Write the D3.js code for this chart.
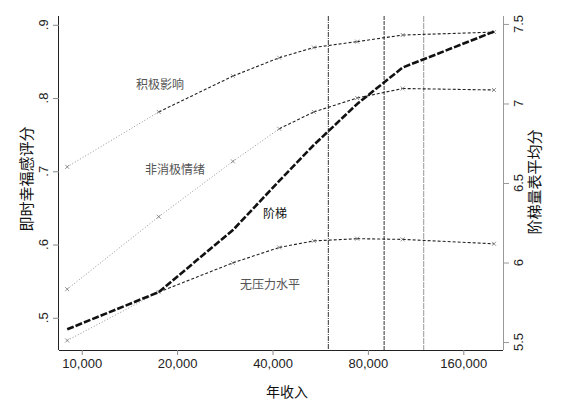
<!DOCTYPE html>
<html><head><meta charset="utf-8">
<script src="https://cdn.jsdelivr.net/npm/d3@7"></script>
<style>
body{margin:0;background:#fff;}
text{font-family:"Liberation Sans",Arial,sans-serif;}
.cjk{font-family:"Noto Sans CJK SC",sans-serif;}
</style></head>
<body><svg id="c" width="562" height="403"></svg>
<script>
// data
const incomes = [9000, 17500, 30000, 42000, 54000, 74000, 103000, 200000];
const positiveAffect = [0.706, 0.781, 0.830, 0.855, 0.869, 0.877, 0.886, 0.890];
const notSad = [0.539, 0.638, 0.7135, 0.758, 0.781, 0.800, 0.813, 0.811];
const noStress = [0.469, 0.535, 0.575, 0.596, 0.605, 0.608, 0.607, 0.601];
const ladder = [5.58, 5.814, 6.204, 6.513, 6.739, 6.997, 7.226, 7.452];
const xTicks = [10000, 20000, 40000, 80000, 160000];
const leftTicks = [0.5, 0.6, 0.7, 0.8, 0.9];
const leftTickLabels = [".5", ".6", ".7", ".8", ".9"];
const rightTicks = [5.5, 6, 6.5, 7, 7.5];
const rightTickLabels = ["5.5", "6", "6.5", "7", "7.5"];
const refLines = [60000, 90000, 120000];
const seriesNames = ["积极影响", "非消极情绪", "无压力水平", "阶梯"];

const svg = d3.select("#c");
const L = 59, R = 503, T = 16, B = 350;
const x = d3.scaleLog().domain([8478, 213500]).range([L, R]);
const yL = d3.scaleLinear().domain([0.456, 0.912]).range([B, T]);
const yR = d3.scaleLinear().domain([5.45, 7.55]).range([B, T]);

// reference vertical lines
const refStyles = [{c:"#333", d:"5,1,1,1"}, {c:"#333", d:"4,1"}, {c:"#999", d:"6,1"}];
refLines.forEach((v, i) => {
  svg.append("line").attr("x1", x(v)).attr("x2", x(v)).attr("y1", T).attr("y2", B)
    .attr("stroke", refStyles[i].c).attr("stroke-width", 1).attr("stroke-dasharray", refStyles[i].d);
});

// affect lines (left axis)
function drawSeries(vals, scale, dashFrom) {
  for (let i = 0; i < vals.length - 1; i++) {
    const dashed = i >= dashFrom;
    svg.append("line")
      .attr("x1", x(incomes[i])).attr("y1", scale(vals[i]))
      .attr("x2", x(incomes[i+1])).attr("y2", scale(vals[i+1]))
      .attr("stroke", dashed ? "#222" : "#888")
      .attr("stroke-width", dashed ? 1.1 : 0.9)
      .attr("stroke-dasharray", dashed ? "3,2" : "1,2");
  }
  vals.forEach((v, i) => {
    const cx = x(incomes[i]), cy = scale(v), s = 2;
    svg.append("path").attr("d", `M${cx-s},${cy-s}L${cx+s},${cy+s}M${cx-s},${cy+s}L${cx+s},${cy-s}`)
      .attr("stroke", "#777").attr("stroke-width", 0.8).attr("fill", "none");
  });
}
drawSeries(positiveAffect, yL, 1);
drawSeries(notSad, yL, 3);
drawSeries(noStress, yL, 1);

// ladder (right axis)
svg.append("path").datum(ladder)
  .attr("d", d3.line().x((d, i) => x(incomes[i])).y(d => yR(d)))
  .attr("fill", "none").attr("stroke", "#111").attr("stroke-width", 2.6)
  .attr("stroke-dasharray", "7,2");

// axes
const gx = svg.append("g").attr("transform", `translate(0,${B})`)
  .call(d3.axisBottom(x).tickValues(xTicks).tickFormat(d3.format(",")).tickSize(5).tickSizeOuter(0));
gx.select(".domain").attr("d", `M${L},0.5H${R}`).attr("stroke", "#222");
gx.selectAll(".tick line").attr("stroke", "#888");
gx.selectAll(".tick text").attr("font-size", 13).attr("fill", "#222").attr("y", 9).attr("font-family", "Liberation Sans, Arial, sans-serif");

const gl = svg.append("g").attr("transform", `translate(${L},0)`)
  .call(d3.axisLeft(yL).tickValues(leftTicks).tickSize(6).tickSizeOuter(0));
gl.select(".domain").attr("d", `M-0.5,${T}V${B}`).attr("stroke", "#222");
gl.selectAll(".tick line").attr("stroke", "#888");
gl.selectAll(".tick text").remove();
leftTicks.forEach((v, i) => {
  svg.append("text").attr("transform", `translate(43,${yL(v)}) rotate(-90)`)
    .attr("text-anchor", "middle").attr("dominant-baseline", "central")
    .attr("font-size", 13).attr("fill", "#222").text(leftTickLabels[i]);
});

const gr = svg.append("g").attr("transform", `translate(${R},0)`)
  .call(d3.axisRight(yR).tickValues(rightTicks).tickSize(6).tickSizeOuter(0));
gr.select(".domain").attr("d", `M0.5,${T}V${B}`).attr("stroke", "#999");
gr.selectAll(".tick line").attr("stroke", "#999");
gr.selectAll(".tick text").remove();
rightTicks.forEach((v, i) => {
  svg.append("text").attr("transform", `translate(518,${yR(v)}) rotate(-90)`)
    .attr("text-anchor", "middle").attr("dominant-baseline", "central")
    .attr("font-size", 13).attr("fill", "#222").text(rightTickLabels[i]);
});

// axis titles
svg.append("text").attr("class", "cjk").attr("x", 287).attr("y", 397).attr("text-anchor", "middle")
  .attr("font-size", 14).attr("fill", "#111").text("年收入");
svg.append("text").attr("class", "cjk").attr("transform", "translate(25,179) rotate(-90)")
  .attr("text-anchor", "middle").attr("dominant-baseline", "central")
  .attr("font-size", 15).attr("fill", "#111").text("即时幸福感评分");
svg.append("text").attr("class", "cjk").attr("transform", "translate(533,182) rotate(-90)")
  .attr("text-anchor", "middle").attr("dominant-baseline", "central")
  .attr("font-size", 15).attr("fill", "#111").text("阶梯量表平均分");

// series labels
const labelPos = [[160, 83, "#555"], [175, 168, "#555"], [270, 283, "#555"], [275, 212, "#111"]];
seriesNames.forEach((n, i) => {
  svg.append("text").attr("class", "cjk").attr("x", labelPos[i][0]).attr("y", labelPos[i][1])
    .attr("text-anchor", "middle").attr("dominant-baseline", "central")
    .attr("font-size", 12).attr("fill", labelPos[i][2]).text(n);
});
</script></body></html>
